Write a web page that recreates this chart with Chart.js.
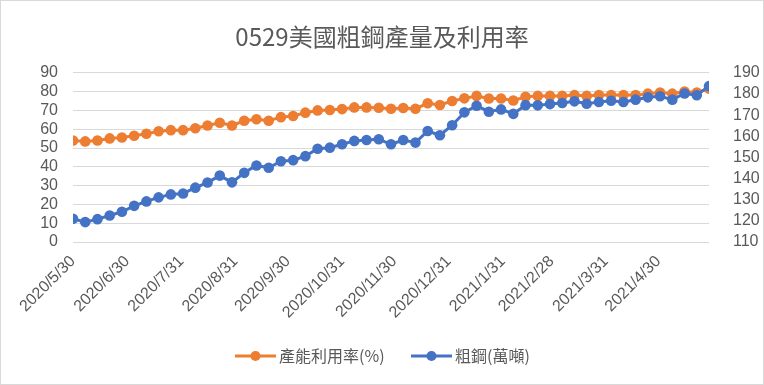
<!DOCTYPE html>
<html>
<head>
<meta charset="utf-8">
<script src="https://cdn.jsdelivr.net/npm/chart.js@4"></script>
<style>
    body { margin: 0; background: #fff; }
    canvas { display: block; }
</style>
</head>
<body>
<canvas id="steelChart" width="764" height="385"></canvas>
<script>
// Données hebdomadaires (samedis)
const dates = [
    '2020/5/30', '2020/6/6', '2020/6/13', '2020/6/20', '2020/6/27', '2020/7/4', '2020/7/11',
    '2020/7/18', '2020/7/25', '2020/8/1', '2020/8/8', '2020/8/15', '2020/8/22', '2020/8/29',
    '2020/9/5', '2020/9/12', '2020/9/19', '2020/9/26', '2020/10/3', '2020/10/10', '2020/10/17',
    '2020/10/24', '2020/10/31', '2020/11/7', '2020/11/14', '2020/11/21', '2020/11/28', '2020/12/5',
    '2020/12/12', '2020/12/19', '2020/12/26', '2021/1/2', '2021/1/9', '2021/1/16', '2021/1/23',
    '2021/1/30', '2021/2/6', '2021/2/13', '2021/2/20', '2021/2/27', '2021/3/6', '2021/3/13',
    '2021/3/20', '2021/3/27', '2021/4/3', '2021/4/10', '2021/4/17', '2021/4/24', '2021/5/1',
    '2021/5/8', '2021/5/15', '2021/5/22', '2021/5/29'
];

const utilization = [
    54.0, 53.5, 54.0, 55.1, 55.6, 56.5, 57.6, 58.9, 59.5, 59.5, 60.5, 62.0, 63.4, 62.0,
    64.5, 65.3, 64.5, 66.4, 67.0, 68.8, 70.0, 70.2, 70.7, 71.6, 71.6, 71.4, 70.9, 71.3,
    70.9, 73.8, 72.9, 75.0, 76.4, 77.7, 76.3, 76.3, 75.3, 77.2, 77.7, 77.7, 77.7, 78.2,
    77.7, 78.2, 78.2, 78.2, 78.2, 78.9, 79.5, 78.9, 80.0, 79.5, 81.6
];

const crudeSteel = [
    121.0, 119.4, 120.8, 122.5, 124.3, 127.1, 129.2, 131.1, 132.5, 132.9, 135.7, 138.1, 141.4, 138.2,
    142.7, 146.2, 145.1, 148.2, 148.7, 150.6, 154.1, 154.6, 156.2, 157.8, 158.2, 158.6, 156.2, 158.2,
    157.0, 162.5, 160.5, 165.2, 171.3, 174.4, 171.6, 172.7, 170.6, 174.7, 174.6, 175.2, 175.7, 176.5,
    175.4, 176.2, 176.8, 176.2, 177.3, 178.4, 178.9, 177.3, 180.2, 179.4, 183.7
];

const tickLabels = [
    '2020/5/30', '2020/6/30', '2020/7/31', '2020/8/31', '2020/9/30', '2020/10/31',
    '2020/11/30', '2020/12/31', '2021/1/31', '2021/2/28', '2021/3/31', '2021/4/30'
];

const seriesNames = ['產能利用率(%)', '粗鋼(萬噸)'];
const orange = '#ED7D31';
const blue = '#4472C4';
const textColor = '#595959';
const gridColor = '#d9d9d9';
const numFont = '"Liberation Sans", "Noto Sans CJK TC", sans-serif';
const cjkFont = '"Noto Sans CJK TC", "Liberation Sans", sans-serif';

function dayOffset(s) {
    const [y, m, d] = s.split('/').map(Number);
    return (Date.UTC(y, m - 1, d) - Date.UTC(2020, 4, 30)) / 86400000;
}

const lastDay = dayOffset(dates[dates.length - 1]);

// Légende façon Excel (ligne + point)
const legendPlugin = {
    id: 'excelLegend',
    afterDraw(chart) {
        const ctx = chart.ctx;
        const items = [
            { x: 235, color: orange, label: seriesNames[0] },
            { x: 411, color: blue, label: seriesNames[1] }
        ];
        const y = 356;
        ctx.save();
        items.forEach(it => {
            ctx.strokeStyle = it.color;
            ctx.lineWidth = 3;
            ctx.beginPath();
            ctx.moveTo(it.x, y);
            ctx.lineTo(it.x + 41, y);
            ctx.stroke();
            ctx.fillStyle = it.color;
            ctx.beginPath();
            ctx.arc(it.x + 20.5, y, 5, 0, Math.PI * 2);
            ctx.fill();
            ctx.fillStyle = textColor;
            ctx.font = '16px ' + cjkFont;
            ctx.textAlign = 'left';
            ctx.textBaseline = 'middle';
            ctx.fillText(it.label, it.x + 44, y);
        });
        ctx.restore();
    }
};

// Cadre gris autour du graphique
const framePlugin = {
    id: 'frame',
    afterDraw(chart) {
        const ctx = chart.ctx;
        ctx.save();
        ctx.strokeStyle = gridColor;
        ctx.lineWidth = 1;
        ctx.strokeRect(0.5, 0.5, chart.width - 1, chart.height - 1);
        ctx.restore();
    }
};

new Chart(document.getElementById('steelChart'), {
    type: 'line',
    data: {
        datasets: [
            {
                label: seriesNames[0],
                data: dates.map((d, i) => ({ x: dayOffset(d), y: utilization[i] })),
                borderColor: orange,
                backgroundColor: orange,
                borderWidth: 3,
                pointRadius: 5.3,
                pointBorderWidth: 0,
                yAxisID: 'y',
                order: 2
            },
            {
                label: seriesNames[1],
                data: dates.map((d, i) => ({ x: dayOffset(d), y: crudeSteel[i] })),
                borderColor: blue,
                backgroundColor: blue,
                borderWidth: 3,
                pointRadius: 5.3,
                pointBorderWidth: 0,
                yAxisID: 'y1',
                order: 1
            }
        ]
    },
    options: {
        responsive: false,
        animation: false,
        devicePixelRatio: 1,
        layout: { padding: { left: 0, right: 0, top: 0, bottom: 40 } },
        plugins: {
            legend: { display: false },
            tooltip: { enabled: false },
            title: {
                display: true,
                text: '0529美國粗鋼產量及利用率',
                color: textColor,
                font: { family: cjkFont, size: 24, weight: 'normal' },
                padding: { top: 22, bottom: 22 }
            }
        },
        scales: {
            x: {
                type: 'linear',
                min: 0,
                max: lastDay,
                afterBuildTicks(scale) {
                    scale.ticks = tickLabels.map(t => ({ value: dayOffset(t) }));
                },
                afterFit(scale) { scale.height = 103; },
                grid: { display: false, drawTicks: false },
                border: { display: false },
                ticks: {
                    autoSkip: false,
                    minRotation: 45,
                    maxRotation: 45,
                    padding: 10,
                    color: textColor,
                    font: { family: numFont, size: 16 },
                    callback(value) {
                        const t = tickLabels.find(l => dayOffset(l) === value);
                        return t || '';
                    }
                }
            },
            y: {
                position: 'left',
                min: 0,
                max: 90,
                afterFit(scale) { scale.width = 73; },
                grid: { color: gridColor, lineWidth: 1, drawTicks: false },
                border: { display: false },
                ticks: {
                    autoSkip: false,
                    stepSize: 10,
                    padding: 15,
                    color: textColor,
                    font: { family: numFont, size: 16 }
                }
            },
            y1: {
                position: 'right',
                min: 110,
                max: 190,
                afterFit(scale) { scale.width = 55; },
                grid: { display: false },
                border: { display: false },
                ticks: {
                    autoSkip: false,
                    stepSize: 10,
                    padding: 16,
                    color: textColor,
                    font: { family: numFont, size: 16 }
                }
            }
        }
    },
    plugins: [framePlugin, legendPlugin]
});
</script>
</body>
</html>
